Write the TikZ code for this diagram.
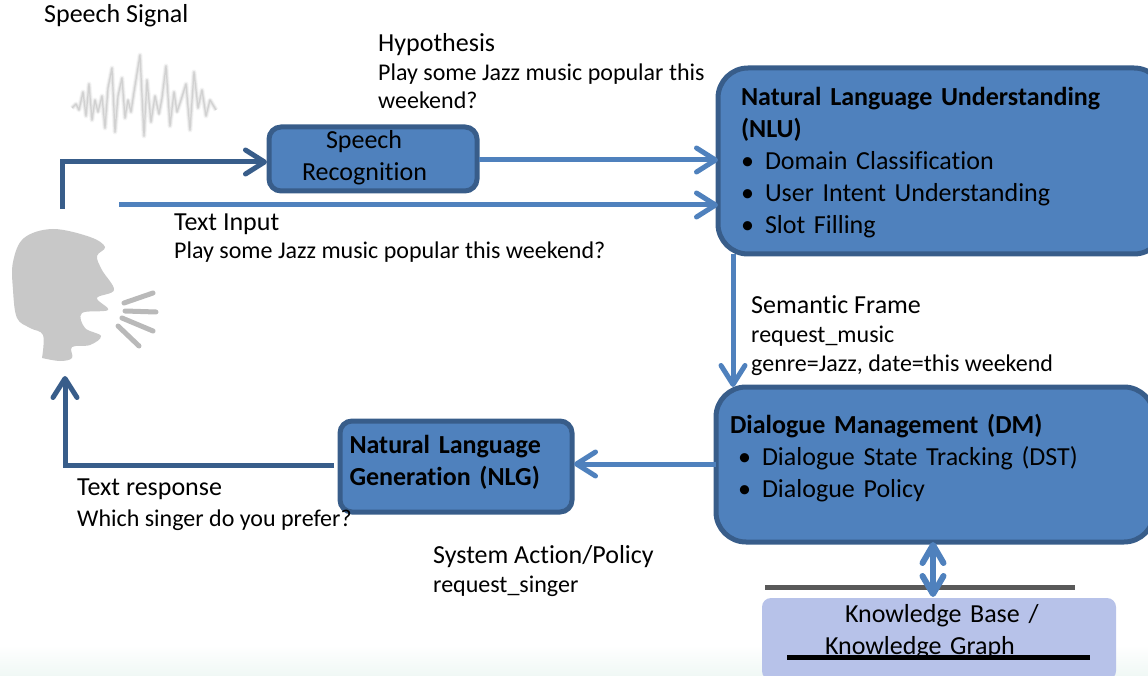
\documentclass[tikz,border=0pt]{standalone}
\usepackage{fontspec}
\setmainfont{Carlito}[Ligatures=CommonOff]
\usetikzlibrary{arrows.meta}
\definecolor{boxblue}{HTML}{4F81BD}
\definecolor{edgeblue}{HTML}{385D8A}
\definecolor{kbblue}{HTML}{B7C2E9}
\definecolor{headgray}{HTML}{C8C8C8}
\definecolor{paleband}{HTML}{F0F8F5}
\tikzset{
    big/.style={anchor=base west, inner sep=0pt, font=\fontsize{26}{30}\selectfont},
    small/.style={anchor=base west, inner sep=0pt, font=\fontsize{24}{28}\selectfont},
    modbox/.style={draw=edgeblue, line width=5pt, fill=boxblue, anchor=north west, outer sep=0pt, font=\fontsize{26}{32}\selectfont},
    flow/.style={line width=5pt, draw=boxblue, -{Straight Barb[length=19pt,width=24pt,line cap=round,round]}},
    backflow/.style={flow, draw=edgeblue},
    wave/.style={line join=round, draw=gray}
}
\newcommand{\itm}{\makebox[24pt][l]{\textbullet}}
\newcommand{\wavepts}{(72,108) (76,104) (79,110) (83,92) (86,116) (89,84) (92,120) (95,100) (98,112) (102,96) (105,128) (108,88) (112,68) (115,132) (118,96) (122,78) (125,118) (128,100) (131,112) (134,92) (140,55) (144,136) (147,80) (151,122) (155,96) (159,114) (162,98) (166,66) (170,126) (174,92) (177,112) (181,100) (186,84) (190,130) (194,72) (198,108) (202,90) (206,116) (210,100) (216,110)}
\begin{document}
\begin{tikzpicture}[x=1pt, y=-1pt]
    \useasboundingbox (0,0) rectangle (1148,676);
    \shade[top color=white, bottom color=paleband] (0,645) rectangle (1148,676);

    % boxes
    \node[modbox, rounded corners=12pt, minimum width=208pt, minimum height=64pt, align=left, text width=190pt, inner sep=0pt] (asr) at (269,127)
        {\hspace*{48pt}Speech\\\hspace*{24pt}Recognition\\[-24pt]\mbox{}};
    \node[modbox, rounded corners=30pt, minimum width=428pt, minimum height=186pt, align=left, text width=400pt, inner xsep=23pt, inner ysep=6pt] (nlu) at (718,68)
        {\rule{0pt}{22pt}\textbf{Natural Language Understanding}\\\textbf{(NLU)}\\\itm Domain Classification\\\itm User Intent Understanding\\\itm Slot Filling};
    \node[modbox, rounded corners=30pt, minimum width=430pt, minimum height=155pt, align=left, text width=410pt, inner xsep=14pt, inner ysep=6pt] (dm) at (716,387)
        {\textbf{Dialogue Management (DM)}\\\hspace*{8pt}\itm Dialogue State Tracking (DST)\\\hspace*{8pt}\itm Dialogue Policy\\[-14pt]\mbox{}};
    \node[modbox, rounded corners=12pt, minimum width=232pt, minimum height=91pt, align=left, text width=225pt, inner sep=0pt] (nlg) at (340,421)
        {\hspace*{6pt}\textbf{Natural Language}\\\hspace*{6pt}\textbf{Generation (NLG)}\\[-20pt]\mbox{}};
    \node[fill=kbblue, rounded corners=9pt, minimum width=354pt, minimum height=82pt, anchor=north west, outer sep=0pt, align=left, text width=340pt, inner sep=0pt, font=\fontsize{26}{32}\selectfont] (kb) at (762,598)
        {\hspace*{76pt}Knowledge Base /\\\hspace*{56pt}Knowledge Graph\\[-12pt]\mbox{}};

    % labels
    \node[big] (speechlbl) at (44,23) {Speech Signal};
    \node[big] (hyplbl) at (378,52) {Hypothesis};
    \node[small] (hyp1) at (378,81) {Play some Jazz music popular this};
    \node[small] (hyp2) at (378,109) {weekend?};
    \node[big] (textlbl) at (174,231) {Text Input};
    \node[small] (text1) at (174,259) {Play some Jazz music popular this weekend?};
    \node[big] (framelbl) at (751,313) {Semantic Frame};
    \node[small] (frame1) at (751,342) {request\_music};
    \node[small] (frame2) at (751,371) {genre=Jazz, date=this weekend};
    \node[big] (resplbl) at (77,495) {Text response};
    \node[small] (resp1) at (77,526) {Which singer do you prefer?};
    \node[big] (actlbl) at (433,563) {System Action/Policy};
    \node[small] (act1) at (433,592) {request\_singer};

    % speaker
    \fill[headgray] plot[smooth, tension=.6] coordinates {(42,358) (43,335) (30,328) (17,318) (13,290) (13,262) (24,238) (53,229) (90,237) (105,247) (97,256) (102,270) (114,290) (97,298) (108,310) (82,313) (85,328) (101,336) (90,345) (72,347) (72,358) (60,361) (42,358)};
    \foreach \a/\b/\c/\d in {124/303/153/293, 125/311/156/312, 122/318/153/331, 118/326/139/346}
        \draw[line width=5pt, gray!55, line cap=round] (\a,\b) -- (\c,\d);

    % waveform
    \draw[wave, opacity=.08, line width=5pt] plot coordinates {\wavepts};
    \draw[wave, opacity=.14, line width=3pt] plot coordinates {\wavepts};
    \draw[wave, opacity=.2, line width=1.2pt] plot coordinates {\wavepts};

    % rules
    \coordinate (rulea) at (765,587);
    \coordinate (ruleb) at (1075,587);
    \coordinate (rulec) at (787,657);
    \coordinate (ruled) at (1090,657);
    \draw[line width=5pt, black!65] (rulea) -- (ruleb);
    \draw[line width=5pt, black] (rulec) -- (ruled);

    % connectors
    \coordinate (headtop) at (62,209);
    \coordinate (headfoot) at (65,376);
    \coordinate (textstart) at (119,205);
    \coordinate (nlustart) at (733,254);
    \coordinate (kbtop) at (933,597);
    \coordinate (dmbot) at (933,542);
    \coordinate (asrin) at (267,162);
    \coordinate (asrout) at (479,160);
    \coordinate (nlgin) at (574,464);
    \coordinate (nlgout) at (334,465);
    \draw[backflow] (headtop) |- (asrin);
    \draw[flow] (asrout) -- (nlu.west |- asrout);
    \draw[flow] (textstart) -- (nlu.west |- textstart);
    \draw[flow] (nlustart) -- (nlustart |- dm.north);
    \draw[flow] (dm.west |- nlgin) -- (nlgin);
    \draw[backflow] (nlgout) -| (headfoot);
    \draw[line width=6pt, draw=boxblue, {Straight Barb[length=18pt,width=21pt,line cap=round,round]}-{Straight Barb[length=18pt,width=21pt,line cap=round,round]}] (dmbot) -- (kbtop);
\end{tikzpicture}
\end{document}
